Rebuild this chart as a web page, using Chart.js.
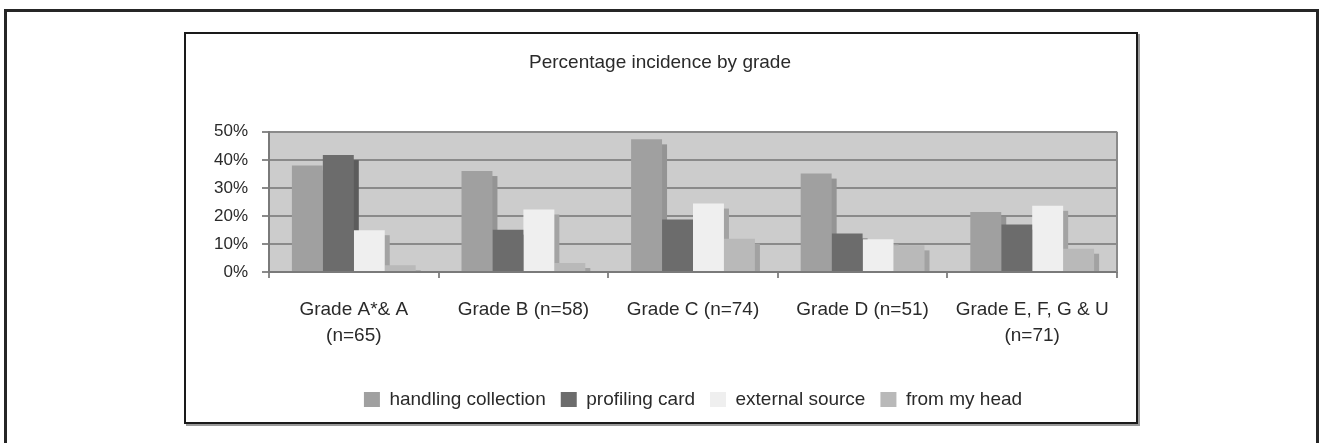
<!DOCTYPE html>
<html>
<head>
<meta charset="utf-8">
<script src="https://cdn.jsdelivr.net/npm/chart.js@4/dist/chart.umd.min.js"></script>
<style>
  body { margin: 0; background: #fff; overflow: hidden; width: 1320px; height: 443px; }
  #outer { position: absolute; left: 4px; top: 9px; width: 1309px; height: 500px; border: 3px solid #262626; }
  #inner { position: absolute; left: 184px; top: 32px; width: 950px; height: 388px; border: 2px solid #1a1a1a; box-shadow: 2px 2px 0 #9a9a9a; background: #fff; }
  #gradeChart { position: absolute; left: 203px; top: 34px; }
</style>
</head>
<body>
<div id="outer"></div>
<div id="inner"></div>
<canvas id="gradeChart" width="933" height="385"></canvas>
<script>
const grades = [
  ['Grade A*& A', '(n=65)'],
  'Grade B (n=58)',
  'Grade C (n=74)',
  'Grade D (n=51)',
  ['Grade E, F, G & U', '(n=71)']
];
const handlingCollection = [38, 36, 47.3, 35.1, 21.4];
const profilingCard = [41.7, 15.1, 18.7, 13.7, 16.9];
const externalSource = [14.9, 22.3, 24.4, 11.7, 23.6];
const fromMyHead = [2.4, 3.2, 11.9, 9.5, 8.3];

const barColours = ['#a0a0a0', '#6c6c6c', '#efefef', '#b9b9b9'];
const shadeColours = ['#949494', '#5c5c5c', '#a3a3a3', '#a2a2a2'];

const canva = document.getElementById('gradeChart');

// grey plot area like the old excel chart
const plotBackground = {
  id: 'plotBackground',
  beforeDraw(chart) {
    const {ctx, chartArea} = chart;
    ctx.save();
    ctx.fillStyle = '#cccccc';
    ctx.fillRect(chartArea.left, chartArea.top, chartArea.right - chartArea.left, chartArea.bottom - chartArea.top);
    ctx.restore();
  },
  afterDraw(chart) {
    const {ctx, chartArea} = chart;
    ctx.save();
    ctx.strokeStyle = '#8a8a8a';
    ctx.lineWidth = 2;
    ctx.beginPath();
    ctx.moveTo(chartArea.right, chartArea.top);
    ctx.lineTo(chartArea.right, chartArea.bottom);
    ctx.stroke();
    ctx.restore();
  }
};

// the little 3d side on each bar
const barShade = {
  id: 'barShade',
  beforeDatasetsDraw(chart) {
    const ctx = chart.ctx;
    ctx.save();
    chart.data.datasets.forEach((ds, i) => {
      const meta = chart.getDatasetMeta(i);
      ctx.fillStyle = shadeColours[i];
      meta.data.forEach((bar) => {
        const p = bar.getProps(['x', 'y', 'base', 'width'], true);
        if (p.base - p.y > 5) {
          ctx.fillRect(p.x - p.width / 2 + 5, p.y + 5, p.width, p.base - p.y - 5);
        }
      });
    });
    ctx.restore();
  }
};

const data = {
  labels: grades,
  datasets: [
    { label: 'handling collection', data: handlingCollection, backgroundColor: barColours[0] },
    { label: 'profiling card', data: profilingCard, backgroundColor: barColours[1] },
    { label: 'external source', data: externalSource, backgroundColor: barColours[2] },
    { label: 'from my head', data: fromMyHead, backgroundColor: barColours[3] }
  ]
};
data.datasets.forEach((ds) => {
  ds.borderWidth = 0;
  ds.barPercentage = 1;
  ds.categoryPercentage = 0.73;
});

const config = {
  type: 'bar',
  data: data,
  options: {
    responsive: false,
    animation: false,
    layout: { padding: { left: 0, right: 19, top: 0, bottom: 0 } },
    plugins: {
      title: {
        display: true,
        text: 'Percentage incidence by grade',
        color: '#2a2a2a',
        font: { family: "'Liberation Sans', Arial, sans-serif", size: 19, weight: 'normal' },
        padding: { top: 17, bottom: 58 }
      },
      legend: {
        position: 'bottom',
        fullSize: false,
        labels: {
          color: '#2a2a2a',
          font: { family: "'Liberation Sans', Arial, sans-serif", size: 19 },
          boxWidth: 16,
          boxHeight: 15,
          padding: 15
        }
      },
      tooltip: { enabled: false }
    },
    scales: {
      x: {
        grid: { offset: true, drawOnChartArea: false, drawTicks: true, tickLength: 6, color: '#8a8a8a', lineWidth: 2 },
        border: { color: '#7a7a7a', width: 2 },
        ticks: {
          color: '#2a2a2a',
          padding: 19,
          maxRotation: 0,
          autoSkip: false,
          font: { family: "'Liberation Sans', Arial, sans-serif", size: 19, lineHeight: 1.35 }
        },
        afterFit(scale) { scale.height = 103; }
      },
      y: {
        min: 0,
        max: 50,
        grid: { color: '#8a8a8a', lineWidth: 2, drawTicks: true, tickLength: 7 },
        border: { color: '#7a7a7a', width: 2 },
        ticks: {
          stepSize: 10,
          padding: 14,
          color: '#2a2a2a',
          font: { family: "'Liberation Sans', Arial, sans-serif", size: 17 },
          callback: (v) => v + '%'
        },
        afterFit(scale) { scale.width = 66; }
      }
    }
  },
  plugins: [plotBackground, barShade]
};

var gradeChart = new Chart(canva, config);
</script>
</body>
</html>
